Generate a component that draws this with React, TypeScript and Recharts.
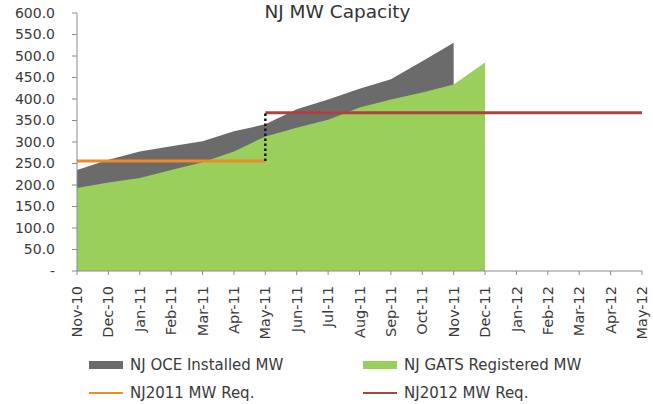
import React from 'react';
import { ComposedChart, Area, Line, XAxis, YAxis, ReferenceLine } from 'recharts';

const months = [
  'Nov-10', 'Dec-10', 'Jan-11', 'Feb-11', 'Mar-11', 'Apr-11', 'May-11', 'Jun-11', 'Jul-11', 'Aug-11',
  'Sep-11', 'Oct-11', 'Nov-11', 'Dec-11', 'Jan-12', 'Feb-12', 'Mar-12', 'Apr-12', 'May-12',
];
const oceInstalled = [235, 259, 278, 290, 302, 325, 341, 376, 399, 424, 446, 488, 531, null, null, null, null, null, null];
const gatsRegistered = [193, 206, 216, 235, 253, 278, 313, 333, 352, 380, 399, 415, 434, 485, null, null, null, null, null];
const req2011 = [256, 256, 256, 256, 256, 256, 256, null, null, null, null, null, null, null, null, null, null, null, null];
const req2012 = [null, null, null, null, null, null, 368, 368, 368, 368, 368, 368, 368, 368, 368, 368, 368, 368, 368];
const yTicks = [0, 50, 100, 150, 200, 250, 300, 350, 400, 450, 500, 550, 600];

const data = months.map((m, i) => ({
  month: m,
  oce: oceInstalled[i],
  gats: gatsRegistered[i],
  r2011: req2011[i],
  r2012: req2012[i],
}));

const font = '"DejaVu Sans", sans-serif';
const textColor = '#3a3a3a';
const axisColor = '#8c8c8c';

const colors = {
  oce: '#6b6b6b',
  gats: '#9bcf5b',
  r2011: '#f08a24',
  r2012: '#ad4240',
};

// switch point between the two requirement lines
const stepIdx = req2011.filter(v => v != null).length - 1;
const stepMonth = months[stepIdx];
const stepLow = req2011[stepIdx] as number;
const stepHigh = req2012[stepIdx] as number;

const MonthTick = (props: any) => {
  const { x, y, payload } = props;
  return (
    <g transform={`translate(${x},${y})`}>
      <text
        transform="rotate(-90)"
        textAnchor="end"
        dy="0.35em"
        fill={textColor}
        fontSize={14.5}
        fontFamily={font}
      >
        {payload.value}
      </text>
    </g>
  );
};

const legendItems = [
  { name: 'NJ OCE Installed MW', color: colors.oce, kind: 'area', left: 89, top: 356 },
  { name: 'NJ GATS Registered MW', color: colors.gats, kind: 'area', left: 363, top: 356 },
  { name: 'NJ2011 MW Req.', color: colors.r2011, kind: 'line', left: 89, top: 384 },
  { name: 'NJ2012 MW Req.', color: colors.r2012, kind: 'line', left: 363, top: 384 },
];

export default function App() {
  return (
    <div style={{ position: 'relative', width: 653, height: 404, background: '#fff' }}>
      <style>{'body{margin:0}'}</style>
      <div
        style={{
          position: 'absolute',
          top: 1,
          left: 262,
          width: 151,
          textAlign: 'center',
          fontFamily: font,
          fontSize: 18.5,
          color: '#333',
          whiteSpace: 'nowrap',
        }}
      >
        NJ MW Capacity
      </div>
      <ComposedChart width={653} height={404} data={data} margin={{ top: 13, right: 11, bottom: 63, left: 0 }}>
        <XAxis
          dataKey="month"
          scale="point"
          interval={0}
          height={70}
          tickSize={4}
          tickMargin={11}
          stroke={axisColor}
          tick={<MonthTick />}
        />
        <YAxis
          type="number"
          domain={[0, 600]}
          ticks={yTicks}
          width={77}
          tickSize={5}
          tickMargin={17}
          stroke={axisColor}
          tick={{ fill: textColor, fontSize: 14, fontFamily: font }}
          tickFormatter={(v: number) => (v === 0 ? '-' : v.toFixed(1))}
        />
        <Area dataKey="oce" type="linear" stroke="none" fill={colors.oce} fillOpacity={1} isAnimationActive={false} />
        <Area dataKey="gats" type="linear" stroke="none" fill={colors.gats} fillOpacity={1} isAnimationActive={false} />
        <Line dataKey="r2011" type="linear" stroke={colors.r2011} strokeWidth={3} dot={false} isAnimationActive={false} />
        <Line dataKey="r2012" type="linear" stroke={colors.r2012} strokeWidth={3} dot={false} isAnimationActive={false} />
        <ReferenceLine
          segment={[{ x: stepMonth, y: stepLow }, { x: stepMonth, y: stepHigh }]}
          stroke="#1a1a1a"
          strokeWidth={2.5}
          strokeDasharray="2.5 2.5"
        />
      </ComposedChart>
      {legendItems.map(it => (
        <div
          key={it.name}
          style={{
            position: 'absolute',
            left: it.left,
            top: it.top,
            display: 'flex',
            alignItems: 'center',
            fontFamily: font,
            fontSize: 15,
            color: textColor,
            whiteSpace: 'nowrap',
          }}
        >
          <span
            style={{
              display: 'inline-block',
              width: 34,
              height: it.kind === 'area' ? 8 : 2,
              background: it.color,
              marginRight: 7,
            }}
          />
          {it.name}
        </div>
      ))}
    </div>
  );
}
